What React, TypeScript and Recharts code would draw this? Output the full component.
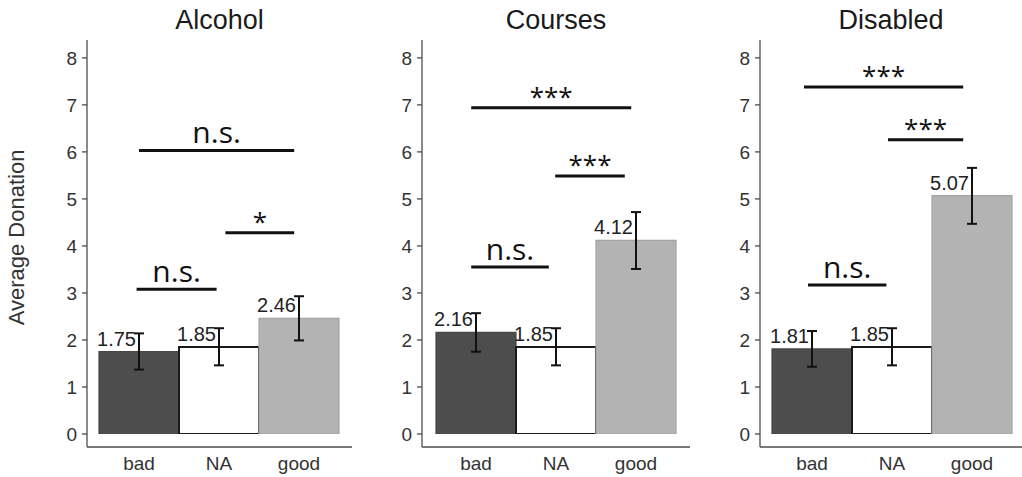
import { BarChart, Bar, XAxis, YAxis, ErrorBar, Cell, ReferenceLine } from "recharts";

// categories and tick labels
const categories = ["bad", "NA", "good"];
const yTicks = [0, 1, 2, 3, 4, 5, 6, 7, 8];
const yMax = 8.38;

// means and confidence bounds
const alcoholMeans = [1.75, 1.85, 2.46];
const alcoholLow = [1.37, 1.46, 1.99];
const alcoholHigh = [2.14, 2.25, 2.93];

const coursesMeans = [2.16, 1.85, 4.12];
const coursesLow = [1.75, 1.46, 3.51];
const coursesHigh = [2.57, 2.25, 4.72];

const disabledMeans = [1.81, 1.85, 5.07];
const disabledLow = [1.43, 1.46, 4.47];
const disabledHigh = [2.19, 2.25, 5.66];

// significance brackets: category index from/to, height, text
type Bracket = { from: number; to: number; y: number; text: string };

const alcoholBrackets: Bracket[] = [
  { from: -0.03, to: 0.97, y: 3.08, text: "n.s." },
  { from: 1.08, to: 1.94, y: 4.28, text: "*" },
  { from: 0, to: 1.94, y: 6.03, text: "n.s." },
];
const coursesBrackets: Bracket[] = [
  { from: -0.06, to: 0.91, y: 3.55, text: "n.s." },
  { from: 0.99, to: 1.86, y: 5.49, text: "***" },
  { from: -0.06, to: 1.94, y: 6.94, text: "***" },
];
const disabledBrackets: Bracket[] = [
  { from: -0.05, to: 0.93, y: 3.17, text: "n.s." },
  { from: 0.95, to: 1.89, y: 6.26, text: "***" },
  { from: -0.1, to: 1.89, y: 7.38, text: "***" },
];

const barFills = ["#4d4d4d", "#ffffff", "#b3b3b3"];
const barStrokes = ["#474747", "#1a1a1a", "#a3a3a3"];

const font = '"Liberation Sans", Arial, sans-serif';
const sigFont = '"Open Sans", sans-serif';
const axisColor = "#4d4d4d";

type PanelProps = {
  title: string;
  means: number[];
  lows: number[];
  highs: number[];
  brackets: Bracket[];
  left: number;
  width: number;
  marginLeft: number;
  padLeft: number;
  padRight: number;
  showYLabel?: boolean;
};

function Panel({
  title,
  means,
  lows,
  highs,
  brackets,
  left,
  width,
  marginLeft,
  padLeft,
  padRight,
  showYLabel,
}: PanelProps) {
  const yAxisWidth = 70;
  const data = categories.map((cat, i) => ({
    cat,
    idx: i,
    mean: means[i],
    err: [means[i] - lows[i], highs[i] - means[i]],
  }));

  const renderValue = (p: any) => (
    <text
      x={p.x + p.width / 2 - 3}
      y={p.y - 6}
      textAnchor="end"
      fontFamily={font}
      fontSize={20}
      fill="#222"
    >
      {Number(p.value).toFixed(2)}
    </text>
  );

  const renderYLabel = (p: any) => {
    const vb = p.viewBox;
    const cx = vb.x - 1;
    const cy = vb.y + vb.height / 2 - 6;
    return (
      <text
        x={cx}
        y={cy}
        transform={`rotate(-90 ${cx} ${cy})`}
        textAnchor="middle"
        dominantBaseline="central"
        fontFamily={font}
        fontSize={22}
        fill="#333"
      >
        Average Donation
      </text>
    );
  };

  const bracketLabel = (text: string) => (p: any) => {
    const vb = p.viewBox;
    const stars = text.includes("*");
    return (
      <text
        x={vb.x + vb.width / 2}
        y={stars ? vb.y - 2 : vb.y - 7}
        textAnchor="middle"
        fontFamily={sigFont}
        fontSize={stars ? 26 : 30}
        fill="#111"
      >
        {text}
      </text>
    );
  };

  return (
    <div style={{ position: "absolute", left, top: 0, width, height: 477 }}>
      <div
        style={{
          position: "absolute",
          left: marginLeft + yAxisWidth,
          width: width - marginLeft - yAxisWidth,
          top: 7,
          textAlign: "center",
          fontFamily: font,
          fontSize: 27,
          lineHeight: "27px",
          color: "#1a1a1a",
        }}
      >
        {title}
      </div>
      <BarChart
        width={width}
        height={477}
        data={data}
        margin={{ top: 40, right: 0, bottom: 0, left: marginLeft }}
        barCategoryGap={0}
      >
        <XAxis
          xAxisId="cat"
          dataKey="cat"
          type="category"
          interval={0}
          padding={{ left: padLeft, right: padRight }}
          height={30}
          tickLine={false}
          tickSize={0}
          tickMargin={9.5}
          axisLine={{ stroke: axisColor, strokeWidth: 1.3 }}
          tick={{ fill: "#333", fontSize: 19, fontFamily: font }}
        />
        <XAxis
          xAxisId="num"
          dataKey="idx"
          type="number"
          domain={[-0.5, 2.5]}
          allowDataOverflow
          padding={{ left: padLeft, right: padRight }}
          hide
        />
        <YAxis
          width={yAxisWidth}
          domain={[0, yMax]}
          ticks={yTicks}
          allowDataOverflow
          padding={{ top: 0, bottom: 13 }}
          tickSize={5}
          tickMargin={5}
          interval={0}
          axisLine={{ stroke: axisColor, strokeWidth: 1.3 }}
          tickLine={{ stroke: axisColor, strokeWidth: 1.3 }}
          tick={{ fill: "#333", fontSize: 19, fontFamily: font }}
          label={showYLabel ? renderYLabel : undefined}
        />
        <Bar xAxisId="cat" dataKey="mean" isAnimationActive={false} label={renderValue}>
          {data.map((d, i) => (
            <Cell
              key={d.cat}
              fill={barFills[i]}
              stroke={barStrokes[i]}
              strokeWidth={i === 1 ? 2 : 1.2}
            />
          ))}
          <ErrorBar dataKey="err" width={5} stroke="#111" strokeWidth={2} isAnimationActive={false} />
        </Bar>
        {brackets.map((b, i) => (
          <ReferenceLine
            key={i}
            xAxisId="num"
            segment={[
              { x: b.from, y: b.y },
              { x: b.to, y: b.y },
            ]}
            stroke="#111"
            strokeWidth={3}
            label={bracketLabel(b.text)}
          />
        ))}
      </BarChart>
    </div>
  );
}

export default function App() {
  return (
    <div
      style={{
        position: "absolute",
        left: 0,
        top: 0,
        width: 1022,
        height: 477,
        background: "#fff",
        overflow: "hidden",
      }}
    >
      <Panel
        title="Alcohol"
        means={alcoholMeans}
        lows={alcoholLow}
        highs={alcoholHigh}
        brackets={alcoholBrackets}
        left={0}
        width={352}
        marginLeft={17}
        padLeft={12}
        padRight={13}
        showYLabel
      />
      <Panel
        title="Courses"
        means={coursesMeans}
        lows={coursesLow}
        highs={coursesHigh}
        brackets={coursesBrackets}
        left={352}
        width={338}
        marginLeft={0}
        padLeft={14}
        padRight={14}
      />
      <Panel
        title="Disabled"
        means={disabledMeans}
        lows={disabledLow}
        highs={disabledHigh}
        brackets={disabledBrackets}
        left={690}
        width={332}
        marginLeft={0}
        padLeft={12}
        padRight={10}
      />
    </div>
  );
}
